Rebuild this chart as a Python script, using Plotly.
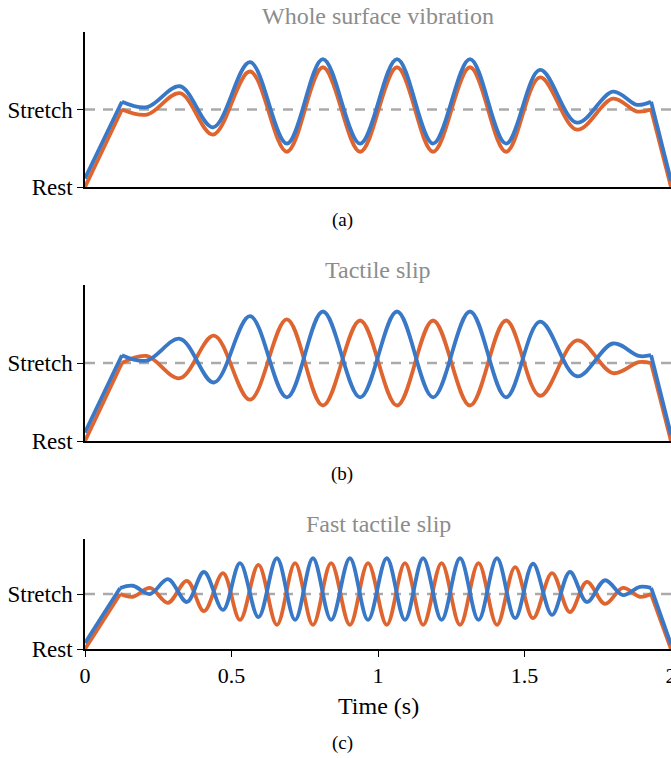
import plotly.graph_objects as go

# ---------------- data ----------------
# Panel (a): Whole surface vibration -- extrema times (s) and values (Rest=0, Stretch=1)
t_a = [0.126, 0.212, 0.324, 0.437, 0.563, 0.689, 0.812, 0.939, 1.065, 1.188, 1.314,
       1.437, 1.553, 1.679, 1.802, 1.884, 1.932]
orange_a = [1.0, 0.935, 1.21, 0.675, 1.49, 0.455, 1.545, 0.455, 1.545, 0.455, 1.545,
            0.455, 1.415, 0.74, 1.14, 0.974, 1.0]
blue_a = [1.10, 1.03, 1.30, 0.77, 1.61, 0.56, 1.65, 0.56, 1.65, 0.56, 1.65,
          0.56, 1.51, 0.83, 1.23, 1.06, 1.10]

# Panel (b): Tactile slip
t_b = [0.126, 0.21, 0.324, 0.44, 0.563, 0.689, 0.812, 0.939, 1.065, 1.188, 1.314,
       1.437, 1.553, 1.679, 1.802, 1.89, 1.932]
orange_b = [1.0, 1.09, 0.805, 1.35, 0.53, 1.56, 0.455, 1.545, 0.455, 1.545, 0.455,
            1.545, 0.58, 1.29, 0.87, 1.01, 1.0]
blue_b = [1.10, 1.03, 1.31, 0.75, 1.60, 0.56, 1.66, 0.56, 1.66, 0.56, 1.66,
          0.56, 1.53, 0.83, 1.25, 1.09, 1.10]

# Panel (c): Fast tactile slip
t_c = [0.12, 0.163, 0.222, 0.283, 0.348, 0.406, 0.471, 0.529, 0.592, 0.655, 0.717,
       0.778, 0.84, 0.904, 0.966, 1.03, 1.092, 1.154, 1.217, 1.28, 1.343, 1.406,
       1.468, 1.529, 1.594, 1.655, 1.713, 1.775, 1.836, 1.894, 1.932]
orange_c = [1.0, 0.95, 1.11, 0.84, 1.24, 0.69, 1.38, 0.53, 1.53, 0.44, 1.56,
            0.44, 1.56, 0.44, 1.56, 0.44, 1.56, 0.44, 1.56, 0.44, 1.56, 0.44,
            1.49, 0.56, 1.38, 0.67, 1.22, 0.82, 1.11, 0.95, 1.0]
blue_c = [1.11, 1.15, 1.0, 1.27, 0.855, 1.40, 0.71, 1.56, 0.58, 1.65, 0.53,
          1.65, 0.53, 1.65, 0.53, 1.65, 0.53, 1.65, 0.53, 1.65, 0.53, 1.65,
          0.56, 1.55, 0.62, 1.40, 0.855, 1.25, 0.98, 1.13, 1.11]

# start (t=0) and end (t=2) levels of each series
t_start, t_end = 0.0, 2.0
orange_ends = [0.0, 0.0]
blue_ends = [0.11, 0.08]

titles = ["Whole surface vibration", "Tactile slip", "Fast tactile slip"]
labels = ["(a)", "(b)", "(c)"]
ytick_vals = [0, 1]
ytick_text = ["Rest", "Stretch"]
xtick_vals = [0, 0.5, 1, 1.5, 2]
xtick_text = ["0", "0.5", "1", "1.5", "2"]

# ---------------- styling ----------------
W, H = 671, 758
ORANGE = "#DF6530"
BLUE = "#3878C6"
FONT = "Liberation Serif, Times New Roman, Times, serif"
LW = 3.8
L = 85

# pixel boxes of plot areas (top, bottom)
boxes = [(32, 187), (285, 441), (539, 649)]
title_y = [16, 270, 524]
label_y = [220, 474, 743]


def py(y):
    return 1 - y / H


fig = go.Figure()
panels = [(t_a, orange_a, blue_a), (t_b, orange_b, blue_b), (t_c, orange_c, blue_c)]

for i, (tt, oo, bb) in enumerate(panels):
    ax = "" if i == 0 else str(i + 1)
    xa, ya = "x" + ax, "y" + ax
    for vals, ends, col in [(oo, orange_ends, ORANGE), (bb, blue_ends, BLUE)]:
        fig.add_trace(go.Scatter(x=[t_start, tt[0]], y=[ends[0], vals[0]], mode="lines",
                                 line=dict(color=col, width=LW), xaxis=xa, yaxis=ya,
                                 showlegend=False, hoverinfo="skip"))
        fig.add_trace(go.Scatter(x=tt, y=vals, mode="lines",
                                 line=dict(color=col, width=LW, shape="spline", smoothing=1),
                                 xaxis=xa, yaxis=ya, showlegend=False))
        fig.add_trace(go.Scatter(x=[tt[-1], t_end], y=[vals[-1], ends[1]], mode="lines",
                                 line=dict(color=col, width=LW), xaxis=xa, yaxis=ya,
                                 showlegend=False, hoverinfo="skip"))
    fig.add_shape(type="line", x0=0, x1=2, y0=1, y1=1, xref=xa, yref=ya,
                  line=dict(color="#AAAAAA", width=2.5, dash="10px,8px"), layer="below")

    top, bot = boxes[i]
    dom = [py(bot), py(top)]
    xkey = "xaxis" if i == 0 else f"xaxis{i+1}"
    ykey = "yaxis" if i == 0 else f"yaxis{i+1}"
    last = i == 2
    fig.update_layout(**{
        xkey: dict(domain=[0, 1], range=[0, 2], anchor=ya, showgrid=False, zeroline=False,
                   automargin=False, ticklabeloverflow="allow",
                   showline=True, linecolor="black", linewidth=1.5,
                   ticks="outside" if last else "", ticklen=6, tickwidth=1.3, tickcolor="black",
                   tickvals=xtick_vals if last else [], ticktext=xtick_text if last else [],
                   showticklabels=last, tickfont=dict(family=FONT, size=22, color="black")),
        ykey: dict(domain=dom, range=[0, 2], anchor=xa, showgrid=False, zeroline=False,
                   automargin=False,
                   showline=True, linecolor="black", linewidth=1.5,
                   ticks="outside", ticklen=6, tickwidth=1.3, tickcolor="black",
                   tickvals=ytick_vals, ticktext=ytick_text,
                   tickfont=dict(family=FONT, size=23, color="black")),
    })
    fig.add_annotation(text=titles[i], xref="paper", yref="paper", x=0.5,
                       y=py(title_y[i]), showarrow=False, xanchor="center", yanchor="middle",
                       font=dict(family=FONT, size=24, color="#8C8C8C"))
    fig.add_annotation(text=labels[i], xref="paper", yref="paper", x=(342 - 85) / 586,
                       y=py(label_y[i]), showarrow=False, xanchor="center", yanchor="middle",
                       font=dict(family=FONT, size=19, color="black"))

fig.add_annotation(text="Time (s)", xref="paper", yref="paper", x=0.5, y=py(706),
                   showarrow=False, xanchor="center", yanchor="middle",
                   font=dict(family=FONT, size=24, color="black"))

fig.update_layout(width=W, height=H, margin=dict(l=L, r=0, t=0, b=0, autoexpand=False),
                  plot_bgcolor="white", paper_bgcolor="white", showlegend=False)

fig.write_html("out.html", config={"displayModeBar": False},
               post_script="document.body.style.margin='0';document.body.style.overflow='hidden';")
